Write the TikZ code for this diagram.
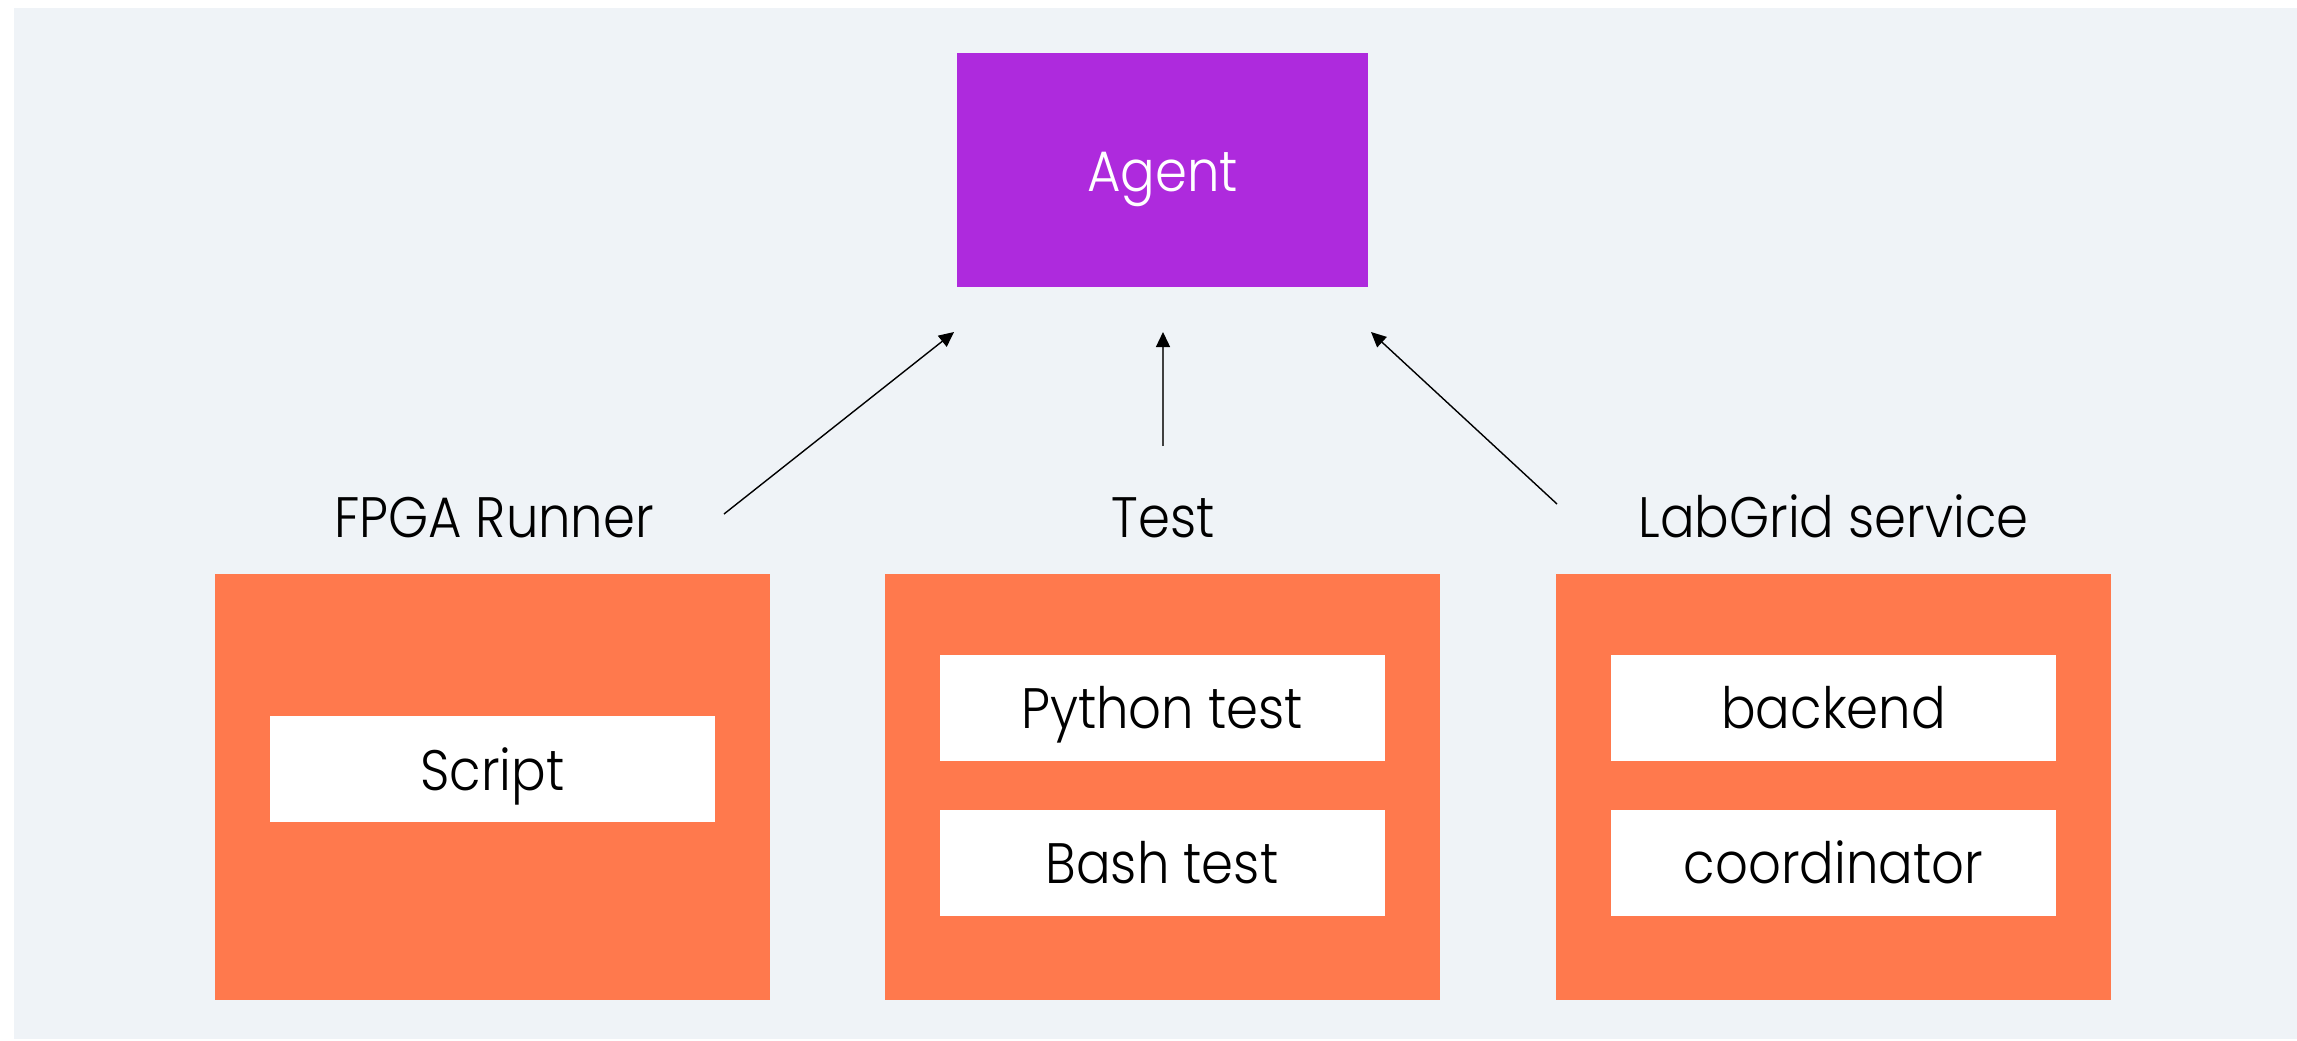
\documentclass[tikz,border=0pt]{standalone}
\usepackage{fontspec}
\setmainfont{Poppins Light}[FakeStretch=0.9]
\usetikzlibrary{arrows.meta,calc}

\definecolor{canvas}{HTML}{EFF3F7}
\definecolor{agentpurple}{HTML}{AE2ADD}
\definecolor{blockorange}{HTML}{FF794D}

\tikzset{
  boxfont/.style={font=\fontsize{28.5}{32}\selectfont,
    text height=21pt, text depth=0pt},
  agentbox/.style={fill=agentpurple, draw=none, inner sep=0pt,
    minimum width=205.5pt, minimum height=117pt,
    text=white, boxfont},
  groupbox/.style={fill=blockorange, draw=none, inner sep=0pt,
    minimum width=277.5pt, minimum height=213pt},
  itembox/.style={fill=white, draw=none, inner sep=0pt,
    minimum width=222.5pt, minimum height=53pt,
    text=black, boxfont},
  grouplabel/.style={anchor=base, inner sep=0pt, text=black,
    font=\fontsize{28.5}{32}\selectfont},
  flow/.style={draw=black, line width=0.7pt,
    -{Triangle[length=7.5pt,width=7pt,color=black,fill=black]}},
}

\begin{document}
\begin{tikzpicture}[x=0.5pt, y=-0.5pt]
  % canvas and margins
  \useasboundingbox (0,0) rectangle (2297,1040);
  \fill[canvas] (14,8) rectangle (2297,1039);

  % top level
  \node[agentbox] (agent) at (1162.5,170) {Agent};

  % the three groups
  \node[groupbox] (runner) at (492.5,787) {};
  \node[groupbox] (test) at (1162.5,787) {};
  \node[groupbox] (labgrid) at (1833.5,787) {};

  \node[grouplabel] (runnerlabel) at (494,537) {FPGA Runner};
  \node[grouplabel] (testlabel) at (1163,537) {Test};
  \node[grouplabel] (labgridlabel) at (1833.5,537) {LabGrid service};

  % group contents
  \node[itembox] (script) at (492.5,769) {Script};
  \node[itembox] (python) at (1162,707.5) {Python test};
  \node[itembox] (bash) at (1162,862.5) {Bash test};
  \node[itembox] (backend) at (1833.5,707.5) {backend};
  \node[itembox] (coord) at (1833.5,862.5) {coordinator};

  % arrow ends, kept clear of the boxes
  \coordinate (runnerout) at (724,514);
  \coordinate (testout) at (1163,446);
  \coordinate (labgridout) at (1557,504);
  \coordinate (agentinL) at (954,332);
  \coordinate (agentinM) at (1163,332);
  \coordinate (agentinR) at (1371,332);

  \draw[flow] (runnerout) -- (agentinL);
  \draw[flow, draw=black!75] (testout) -- (agentinM);
  \draw[flow] (labgridout) -- (agentinR);
\end{tikzpicture}
\end{document}
